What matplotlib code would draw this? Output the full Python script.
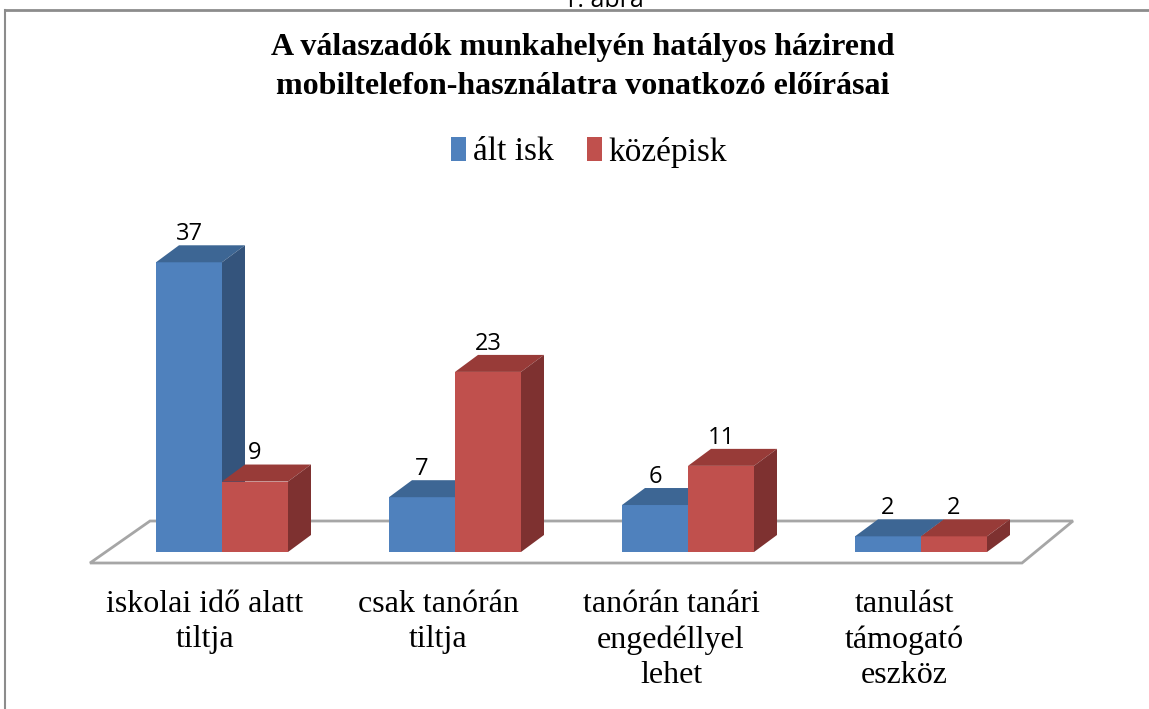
import numpy as np
import matplotlib.pyplot as plt
from matplotlib.patches import Polygon
from matplotlib.lines import Line2D

## Data
categories = ["iskolai idő alatt\ntiltja", "csak tanórán\ntiltja",
              "tanórán tanári\nengedéllyel\nlehet", "tanulást\ntámogató\neszköz"]
series_names = ["ált isk", "középisk"]
alt_isk = [37, 7, 6, 2]
kozepisk = [9, 23, 11, 2]

title = "A válaszadók munkahelyén hatályos házirend\nmobiltelefon-használatra vonatkozó előírásai"

## Styles
front_col = ["#4F81BD", "#C0504D"]
top_col = ["#3D6694", "#983B38"]
side_col = ["#34547C", "#7E3130"]
serif = "Liberation Serif"

W, H, DPI = 1149, 709, 100
fig = plt.figure(figsize=(W / DPI, H / DPI), dpi=DPI)
ax = fig.add_axes([0, 0, 1, 1])

# scale: 233 px per category, 7.83 px per unit, zero at pixel row 552
px_x = 233.0
px_y = 7.83
x0_px, y0_px = 222.0, 552.0
ax.set_xlim(-x0_px / px_x, (W - x0_px) / px_x)
ax.set_ylim((y0_px - H) / px_y, y0_px / px_y)
ax.axis("off")

bw = 66 / px_x          # bar width
ddx = 23 / px_x         # depth offset x
ddy = 17 / px_y         # depth offset y

# floor
floor = Polygon([(-72 / px_x, 31 / px_y), (851 / px_x, 31 / px_y),
                 (800 / px_x, -11 / px_y), (-132 / px_x, -11 / px_y)],
                closed=True, facecolor="white", edgecolor="#A6A6A6", lw=2, zorder=1)
ax.add_patch(floor)

x = np.arange(len(categories))
series = [alt_isk, kozepisk]
for s, vals in enumerate(series):
    lefts = x - bw + s * bw
    bars = ax.bar(lefts, vals, width=bw, align="edge", color=front_col[s],
                  label=series_names[s], zorder=3 + s)
    for b, v in zip(bars, vals):
        l, r = b.get_x(), b.get_x() + b.get_width()
        top = Polygon([(l, v), (r, v), (r + ddx, v + ddy), (l + ddx, v + ddy)],
                      closed=True, facecolor=top_col[s], edgecolor="none", zorder=3 + s)
        side = Polygon([(r, 0), (r + ddx, ddy), (r + ddx, v + ddy), (r, v)],
                       closed=True, facecolor=side_col[s], edgecolor="none", zorder=3 + s)
        ax.add_patch(top)
        ax.add_patch(side)
        ax.text(l + bw / 2, v + ddy - 0.1, str(v), ha="center", va="bottom",
                fontsize=17, family="Open Sans", zorder=6)

# category labels
for i, c in enumerate(categories):
    ax.text(i - 17 / px_x, (y0_px - 590) / px_y, c, ha="center", va="top",
            fontsize=23, family=serif, linespacing=1.28)

# title and legend
fig.text(583 / W, 1 - 67 / H, title, ha="center", va="center", fontsize=23,
         family=serif, weight="bold", linespacing=1.42)
fig.legend(loc="center", bbox_to_anchor=(589 / W, 1 - 152 / H), ncol=2, frameon=False,
           prop={"family": serif, "size": 24}, handlelength=0.45, handleheight=0.7,
           handletextpad=0.2, columnspacing=1.0)

# caption cut at top (as in the source) and chart border
fig.text(603 / W, 1 - 7 / H, "1. ábra", ha="center", va="baseline", fontsize=18,
         family="Open Sans")
fig.add_artist(Line2D([5 / W, 1], [1 - 10 / H, 1 - 10 / H], color="#8C8C8C", lw=2))
fig.add_artist(Line2D([5 / W, 5 / W], [0, 1 - 10 / H], color="#8C8C8C", lw=1.5))

fig.savefig("out.png", dpi=DPI)
